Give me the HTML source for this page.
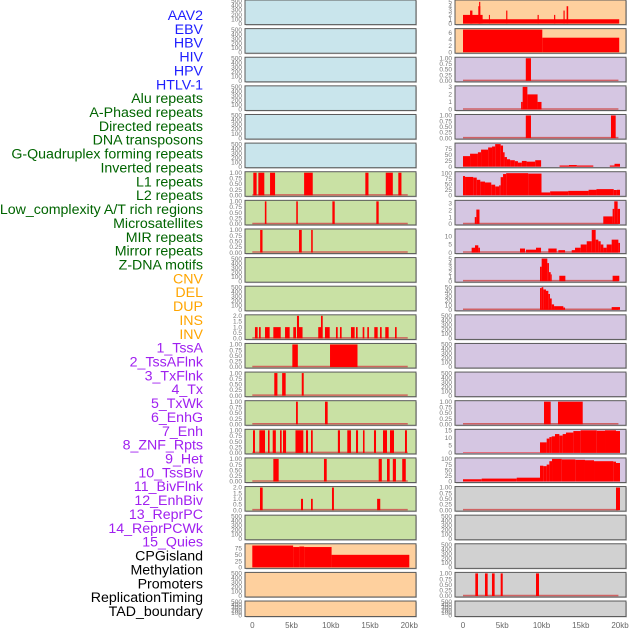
<!DOCTYPE html>
<html><head><meta charset="utf-8"><style>
html,body{margin:0;padding:0;background:#fff;}
svg{display:block;font-family:"Liberation Sans",sans-serif;}
</style></head><body>
<svg id="chart" width="630" height="630" viewBox="0 0 630 630" xmlns="http://www.w3.org/2000/svg"></svg>
<script>
// ---- data ----
const labelNames = ["AAV2","EBV","HBV","HIV","HPV","HTLV-1","Alu repeats","A-Phased repeats","Directed repeats","DNA transposons","G-Quadruplex forming repeats","Inverted repeats","L1 repeats","L2 repeats","Low_complexity A/T rich regions","Microsatellites","MIR repeats","Mirror repeats","Z-DNA motifs","CNV","DEL","DUP","INS","INV","1_TssA","2_TssAFlnk","3_TxFlnk","4_Tx","5_TxWk","6_EnhG","7_Enh","8_ZNF_Rpts","9_Het","10_TssBiv","11_BivFlnk","12_EnhBiv","13_ReprPC","14_ReprPCWk","15_Quies","CPGisland","Methylation","Promoters","ReplicationTiming","TAD_boundary"];
const labelGroups = ["v","v","v","v","v","v","r","r","r","r","r","r","r","r","r","r","r","r","r","s","s","s","s","s","c","c","c","c","c","c","c","c","c","c","c","c","c","c","c","o","o","o","o","o"];
const xTickValues = [0,5,10,15,20];
const xTickLabels = ["0","5kb","10kb","15kb","20kb"];
const tickSets = {
  e500:[0,100,200,300,400,500], unit:[0,0.25,0.5,0.75,1], two:[0,0.5,1,1.5,2],
  q75:[0,25,50,75], q100:[0,25,50,75,100], five:[0,1,2,3,4,5], six:[0,2,4,6],
  three:[0,1,2,3], ten:[0,5,10], fifty:[0,10,20,30,40,50], fifteen:[0,5,10,15]
};
const leftPanel6 = [[0.13,0.55,1],[0.77,1.53,1],[2.26,2.9,1],[6.6,7.7,1],[14.4,14.8,1],[17.0,17.9,1],[18.6,19.0,1]];
const leftPanel7 = [[1.6,1.8,1],[5.6,5.8,1],[10.2,10.5,1],[15.8,16.1,1]];
const leftPanel8 = [[1.0,1.3,1],[5.95,6.3,1],[7.5,7.7,1]];
const leftPanel11 = [[0.34,0.68,1],[0.85,1.07,1],[1.62,2.21,1],[2.68,3.62,1],[4.17,4.76,1],[5.22,5.57,1],[5.69,5.95,2],[5.95,6.4,1],[8.4,8.75,1],[8.75,8.97,2],[9.26,9.86,1],[10.66,10.88,1],[11.17,11.38,1],[12.57,13.04,1],[13.21,13.42,1],[14.06,14.27,1],[14.65,14.86,1],[15.54,15.97,1],[16.27,16.48,1],[16.94,17.37,1],[18.18,18.39,1]];
const leftPanel12 = [[5.1,5.8,1],[9.9,13.4,1]];
const leftPanel13 = [[2.8,3.2,1],[3.8,4.25,1],[6.3,6.55,1]];
const leftPanel14 = [[5.57,5.8,1],[9.26,9.6,1]];
const leftPanel15 = [[0.09,0.34,1],[0.9,1.62,1],[2.0,2.2,1],[2.6,3.0,1],[3.53,3.74,1],[3.91,4.3,1],[5.5,6.5,1],[6.84,7.1,1],[7.48,7.7,1],[10.9,11.17,1],[12.1,12.57,1],[13.21,13.47,1],[14.1,14.3,1],[15.5,15.76,1],[16.65,17.16,1],[17.54,18.05,1],[19.45,19.7,1]];
const leftPanel16 = [[2.68,3.36,1],[9.13,9.48,1],[16.1,16.5,1],[17.16,17.5,1],[17.9,18.3,1],[19.1,19.55,1]];
const leftPanel17 = [[0.98,1.32,2],[6.2,6.46,1],[7.48,7.7,1],[10.15,10.4,2],[15.9,16.3,1]];
const leftPanel19 = [[0,5.2,87],[5.2,6.0,81],[6.0,6.6,83],[6.6,10.1,81],[10.1,20.0,50]];
const rightPanel0 = [[0,19.9,1],[0,2.5,2],[0.9,1.2,3],[1.95,2.2,4],[2.05,2.2,5],[3.3,3.4,2],[5.5,5.65,3],[9.5,9.65,2],[11.6,11.75,2],[12.8,12.95,3],[13.2,13.4,4]];
const rightPanel1 = [[0,10.1,7],[10.1,19.9,4.5]];
const rightPanel2 = [[8.0,8.66,1]];
const rightPanel3 = [[7.4,7.6,1],[7.6,8.2,3],[8.2,9.5,2],[9.5,10.0,1]];
const rightPanel4 = [[8.0,8.66,1],[18.85,19.45,1]];
const rightPanel5 = [[0,0.9,44],[0.9,1.9,54],[1.9,2.3,60],[2.3,3.2,71],[3.2,3.7,80],[3.7,4.1,84],[4.1,4.8,94],[4.8,5.1,88],[5.1,5.3,60],[5.3,5.6,40],[5.6,6.0,31],[6.0,6.6,27],[6.6,7.0,23],[7.0,7.5,17],[7.5,8.1,24],[8.1,9.2,21],[9.2,9.95,27],[12.3,13.5,5],[13.5,14.5,7],[14.5,16.6,5],[18.7,19.3,5],[19.3,20.0,12]];
const rightPanel6 = [[0,0.26,87],[0.26,1.3,83],[1.3,1.75,80],[1.75,2.2,70],[2.2,2.8,62],[2.8,3.6,58],[3.6,4.1,48],[4.1,4.6,40],[4.6,4.8,45],[4.8,5.1,82],[5.1,5.5,96],[5.5,8.3,100],[8.3,10.0,98],[10.0,11.1,13],[11.1,13.4,18],[13.4,16.0,20],[16.0,17.0,25],[17.0,19.2,28],[19.2,19.6,24],[19.6,20.0,25]];
const rightPanel7 = [[1.5,1.7,1],[1.7,2.1,2.1],[17.87,19.06,1.1],[19.06,19.27,2.2],[19.27,19.7,3.3],[19.7,20.0,2.2]];
const rightPanel8 = [[1.1,1.53,3],[1.53,1.95,4.5],[1.95,2.16,3],[7.26,7.9,2.5],[8.02,9.3,1.8],[9.3,9.94,3],[10.87,11.93,2.5],[12.15,13.0,1.5],[13.85,14.27,1.5],[14.27,14.99,3],[14.99,15.76,5],[15.76,16.4,7],[16.4,16.9,14],[16.9,17.24,8],[17.24,17.54,7],[17.54,17.88,5],[17.88,18.3,3],[18.3,18.94,5],[18.94,19.36,8],[19.36,19.79,8],[19.79,20.0,6]];
const rightPanel9 = [[9.81,10.02,3.2],[10.02,10.74,5],[10.74,10.95,4],[10.95,11.17,2],[11.17,11.3,1.5],[12.27,13.04,1.2],[19.06,19.91,1.2]];
const rightPanel10 = [[9.81,10.02,48],[10.02,10.23,50],[10.23,10.57,45],[10.57,10.87,42],[10.87,11.08,35],[11.08,11.3,25],[11.3,11.6,12],[11.6,12.78,8],[12.78,13.0,5],[18.94,20.0,6]];
const rightPanel14 = [[10.32,11.17,1],[12.1,15.25,1]];
const rightPanel15 = [[0,9.81,0.3],[9.81,10.66,7],[10.66,11.0,9.5],[11.0,11.3,10.5],[11.3,11.72,11],[11.72,12.27,12.5],[12.27,12.7,11.5],[12.7,13.12,12.5],[13.12,14.06,13.5],[14.06,14.99,14.5],[14.99,17.03,15],[17.03,18.09,14.7],[18.09,19.49,15],[19.49,20.0,14.5]];
const rightPanel16 = [[0,2.38,10],[2.38,6.84,13],[6.84,9.81,17],[9.81,10.23,70],[10.23,10.66,68],[10.66,11.0,75],[11.0,11.34,90],[11.34,12.57,100],[12.57,14.31,98],[14.31,15.54,96],[15.54,16.69,94],[16.69,19.15,90],[19.15,19.49,88],[19.49,20.0,82]];
const rightPanel17 = [[19.49,20.0,1]];
const rightPanel20 = [[1.57,1.91,1],[2.8,3.14,1],[3.69,4.03,1],[4.8,5.06,1],[9.3,9.68,1]];

const BG = {b:"#c9e5ec", g:"#c9e1a4", o:"#fed09e", p:"#d5c6e2", y:"#d1d1d1"};
const LC = {v:"#1e1eff", r:"#006400", s:"#ffa500", c:"#a020f0", o:"#000000"};
function col(bg,max,ticks,segs,baseline){return {bg,max,ticks,segs,baseline};}
const leftCol = [
 col("b",500,"e500",[],0),col("b",500,"e500",[],0),col("b",500,"e500",[],0),col("b",500,"e500",[],0),col("b",500,"e500",[],0),col("b",500,"e500",[],0),
 col("g",1,"unit",leftPanel6,1),col("g",1,"unit",leftPanel7,1),col("g",1,"unit",leftPanel8,1),
 col("g",500,"e500",[],0),col("g",500,"e500",[],0),col("g",2,"two",leftPanel11,1),
 col("g",1,"unit",leftPanel12,1),col("g",1,"unit",leftPanel13,1),col("g",1,"unit",leftPanel14,1),col("g",1,"unit",leftPanel15,1),col("g",1,"unit",leftPanel16,1),
 col("g",2,"two",leftPanel17,1),col("g",500,"e500",[],0),
 col("o",90,"q75",leftPanel19,0),col("o",500,"e500",[],0),col("o",500,"e500",[],0)
];
const rightCol = [
 col("o",5.2,"five",rightPanel0,0),col("o",7,"six",rightPanel1,0),
 col("p",1,"unit",rightPanel2,1),col("p",3,"three",rightPanel3,1),col("p",1,"unit",rightPanel4,1),
 col("p",94,"q75",rightPanel5,0),col("p",102,"q100",rightPanel6,0),col("p",3.3,"three",rightPanel7,1),
 col("p",14,"ten",rightPanel8,1),col("p",5,"five",rightPanel9,1),col("p",50,"fifty",rightPanel10,1),
 col("p",500,"e500",[],0),col("p",500,"e500",[],0),col("p",500,"e500",[],0),
 col("p",1,"unit",rightPanel14,1),col("p",15,"fifteen",rightPanel15,0),col("p",100,"q100",rightPanel16,0),
 col("y",1,"unit",rightPanel17,1),col("y",500,"e500",[],0),col("y",500,"e500",[],0),
 col("y",1,"unit",rightPanel20,1),col("y",500,"e500",[],0)
];
const svg = document.getElementById("chart");
const NS = "http://www.w3.org/2000/svg";
function mk(tag, attrs, parent){const e=document.createElementNS(NS,tag);for(const k in attrs)e.setAttribute(k,attrs[k]);(parent||svg).appendChild(e);return e;}

labelNames.forEach((name,i)=>{
  const t = mk("text",{x:203,y:20+i*13.86,"text-anchor":"end","font-size":"14.2",fill:LC[labelGroups[i]]});
  t.textContent = name;
  
  
});

function fmt(v,key){
  if(key==="unit") return v.toFixed(2);
  if(key==="two") return v.toFixed(1);
  return String(v);
}
function drawColumn(panels, left, right, x0, x20, side){
  const xs = kb => x0 + (x20-x0)*kb/20;
  panels.forEach((p,i)=>{
    const top = i*28.62, h = (i===21)?15.5:24.6, bot = top+h;
    const g = mk("g",{});
    
    
    mk("rect",{x:left+1,y:top+1,width:right-left,height:h,fill:"#9a9a9a",opacity:0.5},g);
    const bg = mk("rect",{x:left,y:top,width:right-left,height:h,fill:BG[p.bg]},g);
    
    
    const ys = v => (bot-1) - (h-2)*v/p.max;
    if(p.baseline){
      const bl = mk("line",{x1:xs(0),x2:xs(19.8),y1:bot-1.5,y2:bot-1.5,stroke:"#d05050","stroke-width":1.5,opacity:0.85},g);
      
      
    }
    p.segs.forEach(s=>{
      const x1 = xs(s[0]), x2 = xs(s[1]);
      const y = ys(Math.min(s[2],p.max));
      const b = mk("rect",{x:x1,y:y,width:Math.max(x2-x1,1),height:(bot-1)-y,fill:"#ff0000"},g);
      
      
    });
    mk("rect",{x:left,y:top,width:right-left,height:h,fill:"none",stroke:"#5a5a5a","stroke-width":1},g);
    const tv = tickSets[p.ticks];
    const tmax = p.ticks==="e500"?500:p.max;
    tv.forEach(v=>{
      const yy = (bot-1) - (h-2)*v/tmax;
      const t = mk("text",{x:left-3,y:yy+2.2,"text-anchor":"end","font-size":"6.5",fill:"#777"},g);
      t.textContent = fmt(v,p.ticks);
      
      
    });
  });
  xTickValues.forEach((v,j)=>{
    const t = mk("text",{x:xs(v),y:628,"text-anchor":"middle","font-size":"8",fill:"#666"});
    t.textContent = xTickLabels[j];
    
    
  });
}
drawColumn(leftCol, 245, 416, 252.3, 409.3, "left");
drawColumn(rightCol, 455, 626, 463, 620, "right");
</script>
</body></html>
